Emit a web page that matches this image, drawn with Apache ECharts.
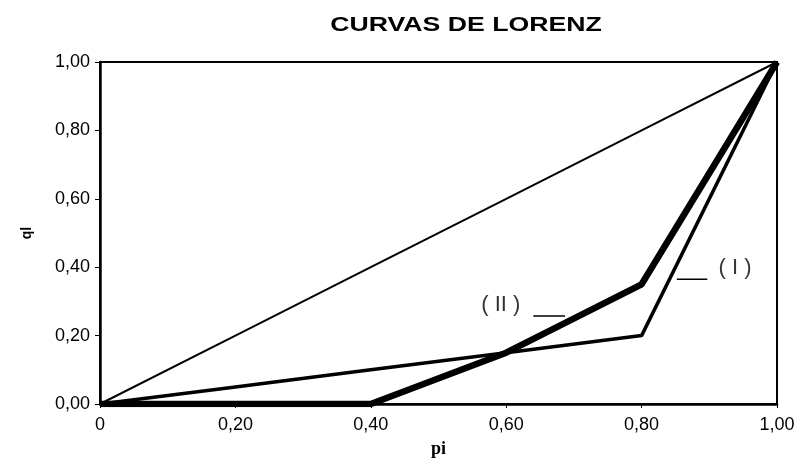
<!DOCTYPE html>
<html>
<head>
<meta charset="utf-8">
<script src="https://cdn.jsdelivr.net/npm/echarts@6/dist/echarts.min.js"></script>
<style>html,body{margin:0;padding:0;background:#fff}#c{width:801px;height:459px}</style>
</head>
<body>
<div id="c"></div>
<script>
var titleText = 'CURVAS DE LORENZ';
var xName = 'pi';
var yName = 'ql';
var pi = [0, 0.2, 0.4, 0.6, 0.8, 1.0];
var equality = [0, 0.2, 0.4, 0.6, 0.8, 1.0];
var curveI = [0, 0.05, 0.10, 0.15, 0.20, 1.0];
var curveII = [0, 0, 0, 0.15, 0.35, 1.0];
var labelI = { text: '( I )', pos: [0.938, 0.398], leader: [[0.852, 0.365], [0.897, 0.365]] };
var labelII = { text: '( II )', pos: [0.592, 0.289], leader: [[0.640, 0.257], [0.687, 0.257]] };

function pairs(xs, ys) { return xs.map(function (x, i) { return [x, ys[i]]; }); }
function fmt(v) { return v.toFixed(2).replace('.', ','); }

var chart = echarts.init(document.getElementById('c'), null, { renderer: 'canvas' });
var font = '"Liberation Sans", Arial, sans-serif';
chart.setOption({
  animation: false,
  backgroundColor: '#fff',
  graphic: [{
    type: 'text', x: 466, y: 25, scaleX: 1.27,
    style: { text: titleText, font: 'bold 21px "Liberation Sans", Arial, sans-serif', fill: '#000', textAlign: 'center', textVerticalAlign: 'middle' }
  }],
  grid: { left: 100, right: 24, top: 62, bottom: 55, show: true, borderColor: '#000', borderWidth: 2, backgroundColor: 'transparent', containLabel: false, outerBoundsMode: 'none' },
  xAxis: {
    type: 'value', min: 0, max: 1, interval: 0.2,
    name: xName, nameLocation: 'middle', nameGap: 36, nameMoveOverlap: false,
    nameTextStyle: { fontFamily: '"Liberation Serif", "Times New Roman", serif', fontWeight: 'bold', fontSize: 18, color: '#000' },
    axisLine: { show: true, lineStyle: { color: '#000', width: 2.5 } },
    axisTick: { show: true, length: 4, lineStyle: { color: '#000', width: 1 } },
    axisLabel: { color: '#000', fontFamily: font, fontSize: 18, margin: 12, formatter: function (v) { return v === 0 ? '0' : fmt(v); } },
    splitLine: { show: false }
  },
  yAxis: {
    type: 'value', min: 0, max: 1, interval: 0.2,
    name: yName, nameLocation: 'middle', nameGap: 66, nameRotate: 90, nameMoveOverlap: false,
    nameTextStyle: { fontFamily: font, fontWeight: 'bold', fontSize: 14, color: '#000' },
    axisLine: { show: true, lineStyle: { color: '#000', width: 2.5 } },
    axisTick: { show: true, length: 5, lineStyle: { color: '#000', width: 1 } },
    axisLabel: { color: '#000', fontFamily: font, fontSize: 18, margin: 10, formatter: fmt },
    splitLine: { show: false }
  },
  series: [
    { name: 'igualdad', type: 'line', data: pairs(pi, equality), showSymbol: false, lineStyle: { color: '#000', width: 2 }, z: 2 },
    { name: '(I)', type: 'line', data: pairs(pi, curveI), showSymbol: false, lineStyle: { color: '#000', width: 3.5 }, z: 3 },
    { name: '(II)', type: 'line', data: pairs(pi, curveII), showSymbol: false, lineStyle: { color: '#000', width: 6.5 }, z: 4 },
    { name: 'leaderI', type: 'line', data: labelI.leader, showSymbol: false, lineStyle: { color: '#000', width: 1.5 }, z: 5 },
    { name: 'leaderII', type: 'line', data: labelII.leader, showSymbol: false, lineStyle: { color: '#000', width: 1.5 }, z: 5 },
    {
      name: 'labels', type: 'scatter', symbolSize: 0, z: 6,
      data: [
        { value: labelI.pos, name: labelI.text },
        { value: labelII.pos, name: labelII.text }
      ],
      label: { show: true, position: 'inside', formatter: function (p) { return p.name; }, color: '#000', fontFamily: font, fontSize: 22 }
    }
  ]
});
</script>
</body>
</html>
